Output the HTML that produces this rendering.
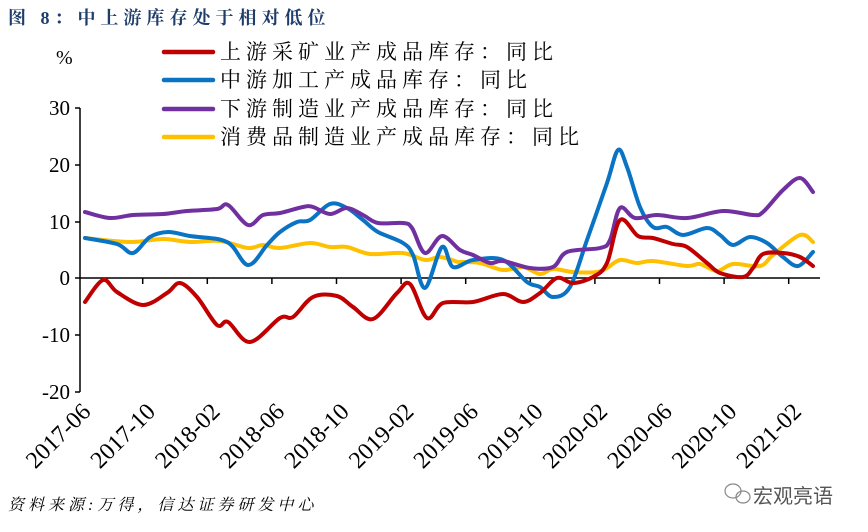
<!DOCTYPE html>
<html><head><meta charset="utf-8"><style>
html,body{margin:0;padding:0;background:#fff;}
svg{display:block;}
</style></head><body>
<svg id="c" width="868" height="532" xmlns="http://www.w3.org/2000/svg" font-family="'Liberation Serif','Noto Serif CJK SC',serif">
<text x="8" y="24" font-size="18" font-weight="bold" fill="#1f3d6b" letter-spacing="5" font-family="'Liberation Serif','Noto Serif CJK SC',serif">图 8：中上游库存处于相对低位</text>
<text x="56" y="64" font-size="20" fill="#000">%</text>
<g font-size="21" fill="#000" letter-spacing="5" font-family="'Liberation Serif','Noto Serif CJK SC',serif">
<line x1="164" y1="52" x2="213" y2="52" stroke="#c00000" stroke-width="4.5" stroke-linecap="round"/>
<text x="220" y="59">上游采矿业产成品库存：同比</text>
<line x1="164" y1="80" x2="213" y2="80" stroke="#0a73c4" stroke-width="4.5" stroke-linecap="round"/>
<text x="220" y="87">中游加工产成品库存：同比</text>
<line x1="164" y1="109" x2="213" y2="109" stroke="#7030a0" stroke-width="4.5" stroke-linecap="round"/>
<text x="220" y="116">下游制造业产成品库存：同比</text>
<line x1="164" y1="137" x2="213" y2="137" stroke="#ffc000" stroke-width="4.5" stroke-linecap="round"/>
<text x="220" y="144">消费品制造业产成品库存：同比</text>
</g>
<g stroke="#000" stroke-width="1.5">
<line x1="80" y1="108" x2="80" y2="392"/>
<line x1="75" y1="108" x2="80" y2="108"/><line x1="75" y1="165" x2="80" y2="165"/>
<line x1="75" y1="222" x2="80" y2="222"/><line x1="75" y1="278" x2="80" y2="278"/>
<line x1="75" y1="335" x2="80" y2="335"/><line x1="75" y1="392" x2="80" y2="392"/>
<line x1="80" y1="278" x2="820" y2="278"/>
<line x1="142.7" y1="278" x2="142.7" y2="284"/><line x1="207.3" y1="278" x2="207.3" y2="284"/>
<line x1="271.9" y1="278" x2="271.9" y2="284"/><line x1="336.5" y1="278" x2="336.5" y2="284"/>
<line x1="401.1" y1="278" x2="401.1" y2="284"/><line x1="465.7" y1="278" x2="465.7" y2="284"/>
<line x1="530.3" y1="278" x2="530.3" y2="284"/><line x1="594.9" y1="278" x2="594.9" y2="284"/>
<line x1="659.5" y1="278" x2="659.5" y2="284"/><line x1="724.1" y1="278" x2="724.1" y2="284"/>
<line x1="788.7" y1="278" x2="788.7" y2="284"/>
</g>
<g font-size="21" fill="#000" text-anchor="end">
<text x="70" y="115">30</text><text x="70" y="172">20</text><text x="70" y="229">10</text>
<text x="70" y="285">0</text><text x="70" y="342">-10</text><text x="70" y="399">-20</text>
</g>
<g font-size="24" fill="#000" text-anchor="end">
<text transform="translate(92,413) rotate(-45)">2017-06</text>
<text transform="translate(156.6,413) rotate(-45)">2017-10</text>
<text transform="translate(221.2,413) rotate(-45)">2018-02</text>
<text transform="translate(285.8,413) rotate(-45)">2018-06</text>
<text transform="translate(350.4,413) rotate(-45)">2018-10</text>
<text transform="translate(415,413) rotate(-45)">2019-02</text>
<text transform="translate(479.6,413) rotate(-45)">2019-06</text>
<text transform="translate(544.2,413) rotate(-45)">2019-10</text>
<text transform="translate(608.8,413) rotate(-45)">2020-02</text>
<text transform="translate(673.4,413) rotate(-45)">2020-06</text>
<text transform="translate(738,413) rotate(-45)">2020-10</text>
<text transform="translate(802.6,413) rotate(-45)">2021-02</text>
</g>
<g id="series" fill="none" stroke-width="4" stroke-linejoin="round" stroke-linecap="round">
<polyline stroke="#ffc000" points="85,238 130,242 163,239 190,242 220,241 248,248 263,245 280,248 310,243 330,247 347,247 370,254 403,253 425,260 440,257 458,262 460,262 480,263 503,270 523,267 540,274 553,269 573,272 597,272 607,268 620,260 637,263 653,261 687,266 700,264 717,271 733,264 760,266 773,255 800,235 813,242"/>
<polyline stroke="#0a73c4" points="85,238 117,244 133,253 150,237 168,232 190,236 227,242 248,265 267,245 280,232 297,222 310,220 330,204 347,208 363,220 378,232 403,243 413,255 425,288 442,247 453,267 473,260 503,260 527,282 540,287 553,297 570,287 587,240 607,183 618,150 627,167 640,207 653,227 667,227 683,235 707,228 720,235 733,245 750,237 767,243 783,257 798,266 813,252"/>
<polyline stroke="#7030a0" points="85,212 110,218 133,215 163,214 187,211 217,209 228,205 248,225 263,215 280,213 303,207 313,207 330,214 347,208 363,215 378,223 403,223 412,228 425,253 442,236 460,250 473,255 490,263 503,261 530,268 553,267 567,252 600,248 610,240 620,208 635,218 657,215 687,218 723,211 753,215 763,212 783,190 800,178 813,192"/>
<polyline stroke="#c00000" points="85,302 103,280 117,292 143,305 167,293 180,283 197,297 217,325 228,322 250,342 280,318 293,317 313,297 337,296 353,307 373,319 397,293 410,284 427,318 443,303 473,302 503,294 523,302 540,293 557,278 573,283 593,277 607,263 620,220 638,236 653,238 673,244 687,247 707,263 720,273 743,277 753,268 763,254 783,253 800,257 813,266"/>
</g>
<text x="8" y="510" font-size="16" font-style="italic" letter-spacing="4" fill="#000">资料来源:万得，信达证券研发中心</text>
<g fill="none" stroke="#888" stroke-width="1.2">
<ellipse cx="733" cy="491" rx="8" ry="7"/><ellipse cx="743" cy="497" rx="7" ry="6"/>
</g>
<text x="753" y="503" font-size="20" fill="#555" font-family="'Noto Sans CJK SC',sans-serif">宏观亮语</text>
</svg>
<script>
(function(){
var ns="http://www.w3.org/2000/svg";
var pls=document.querySelectorAll("#series polyline");
for(var i=0;i<pls.length;i++){
 var pl=pls[i];
 var pts=pl.getAttribute("points").trim().split(/\s+/).map(function(s){var a=s.split(",");return [+a[0],+a[1]];});
 var d="M"+pts[0][0]+","+pts[0][1];
 for(var k=0;k<pts.length-1;k++){
  var p0=pts[k>0?k-1:k],p1=pts[k],p2=pts[k+1],p3=pts[k+2<pts.length?k+2:k+1];
  var t=0.5/3;
  var c1x=p1[0]+(p2[0]-p0[0])*t,c1y=p1[1]+(p2[1]-p0[1])*t;
  var c2x=p2[0]-(p3[0]-p1[0])*t,c2y=p2[1]-(p3[1]-p1[1])*t;
  d+=" C"+c1x.toFixed(1)+","+c1y.toFixed(1)+" "+c2x.toFixed(1)+","+c2y.toFixed(1)+" "+p2[0]+","+p2[1];
 }
 var p=document.createElementNS(ns,"path");
 p.setAttribute("d",d);p.setAttribute("stroke",pl.getAttribute("stroke"));
 pl.parentNode.replaceChild(p,pl);
}
})();
</script>
</body></html>
